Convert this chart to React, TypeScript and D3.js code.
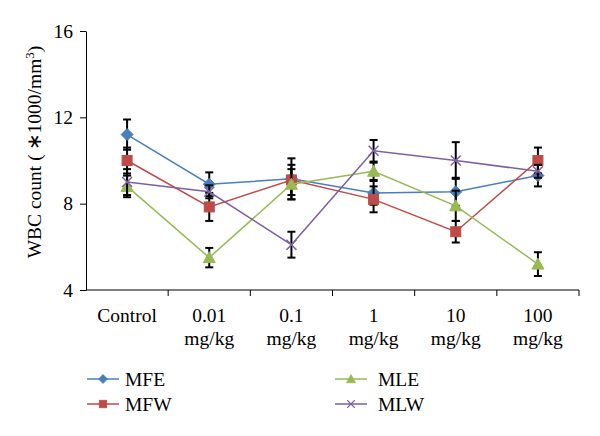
import React, { useEffect, useRef } from 'react';
import * as d3 from 'd3';

const categories = ['Control', '0.01', '0.1', '1', '10', '100'];
const unitLabels = ['', 'mg/kg', 'mg/kg', 'mg/kg', 'mg/kg', 'mg/kg'];
const yTicks = [4, 8, 12, 16];

const seriesNames = ['MFE', 'MFW', 'MLE', 'MLW'];
const mfe = [11.2, 8.9, 9.15, 8.5, 8.55, 9.3];
const mfeErr = [0.7, 0.55, 0.95, 0.55, 0.65, 0.5];
const mfw = [10.0, 7.85, 9.1, 8.2, 6.7, 10.0];
const mfwErr = [0.6, 0.65, 0.7, 0.6, 0.5, 0.6];
const mle = [8.8, 5.5, 8.9, 9.5, 7.9, 5.2];
const mleErr = [0.5, 0.45, 0.7, 0.4, 0.7, 0.55];
const mlw = [9.0, 8.55, 6.1, 10.45, 10.0, 9.5];
const mlwErr = [0.6, 0.3, 0.6, 0.5, 0.85, 0.3];

const colors = ['#4a7ebb', '#be4b48', '#98b954', '#7d60a0'];
const symbols = ['diamond', 'square', 'triangle', 'cross'];

const App = () => {
    const svgRef = useRef<SVGSVGElement>(null);

    useEffect(() => {
        const width = 600;
        const height = 436;
        const marginLeft = 86;
        const marginRight = 21;
        const marginTop = 31;
        const plotBottom = 290;
        const fontSize = 19.5;
        const font = '"Liberation Serif", "Times New Roman", serif';

        const svg = d3.select(svgRef.current)
            .attr('width', width)
            .attr('height', height)
            .attr('viewBox', [0, 0, width, height].join(' '))
            .style('position', 'absolute')
            .style('left', 0)
            .style('top', 0)
            .style('background', '#fff')
            .style('font-family', font);
        svg.selectAll('*').remove();

        const x = d3.scaleBand()
            .domain(categories)
            .range([marginLeft, width - marginRight]);
        const y = d3.scaleLinear()
            .domain([4, 16])
            .range([plotBottom, marginTop]);

        // y axis
        const yAxis = svg.append('g')
            .attr('transform', `translate(${marginLeft},0)`)
            .call(d3.axisLeft(y).tickValues(yTicks).tickSize(6).tickSizeOuter(0).tickFormat(d3.format('d')));
        yAxis.select('.domain').attr('stroke', '#000');
        yAxis.selectAll('.tick line').attr('stroke', '#000');
        yAxis.selectAll('.tick text')
            .attr('x', -13)
            .attr('font-size', fontSize)
            .attr('font-family', font)
            .attr('fill', '#000');

        // x axis (ticks at category boundaries)
        svg.append('line')
            .attr('x1', marginLeft).attr('x2', width - marginRight)
            .attr('y1', plotBottom).attr('y2', plotBottom)
            .attr('stroke', '#000');
        const bounds = categories.map(c => x(c) as number).concat([width - marginRight]);
        svg.append('g')
            .selectAll('line')
            .data(bounds.slice(1))
            .join('line')
            .attr('x1', d => d).attr('x2', d => d)
            .attr('y1', plotBottom).attr('y2', plotBottom + 6)
            .attr('stroke', '#000');

        const cx = (c: string) => (x(c) as number) + x.bandwidth() / 2;

        const labels = svg.append('g')
            .attr('font-size', fontSize)
            .attr('text-anchor', 'middle')
            .attr('fill', '#000');
        labels.selectAll('text.cat')
            .data(categories)
            .join('text')
            .attr('class', 'cat')
            .attr('x', d => cx(d))
            .attr('y', 322)
            .text(d => d);
        labels.selectAll('text.unit')
            .data(categories.map((c, i) => ({ c, u: unitLabels[i] })))
            .join('text')
            .attr('class', 'unit')
            .attr('x', d => cx(d.c))
            .attr('y', 345)
            .text(d => d.u);

        // y title
        const title = svg.append('text')
            .attr('transform', 'translate(41,152) rotate(-90)')
            .attr('text-anchor', 'middle')
            .attr('font-size', fontSize)
            .attr('fill', '#000');
        title.append('tspan').text('WBC count (\u2009\u22171000/mm');
        title.append('tspan').attr('font-size', 13).attr('dy', -7).text('3');
        title.append('tspan').attr('dy', 7).text(')');

        const values = [mfe, mfw, mle, mlw];
        const errors = [mfeErr, mfwErr, mleErr, mlwErr];

        const marker = (g: d3.Selection<SVGGElement, unknown, null, undefined>, kind: string, color: string) => {
            if (kind === 'diamond') {
                g.append('path').attr('d', 'M0,-6L6,0L0,6L-6,0Z').attr('fill', color).attr('stroke', color);
            } else if (kind === 'square') {
                g.append('rect').attr('x', -5).attr('y', -5).attr('width', 10).attr('height', 10).attr('fill', color).attr('stroke', color);
            } else if (kind === 'triangle') {
                g.append('path').attr('d', 'M0,-6L6,5L-6,5Z').attr('fill', color).attr('stroke', color);
            } else {
                g.append('path').attr('d', 'M-5,-5L5,5M-5,5L5,-5').attr('stroke', color).attr('stroke-width', 1.5).attr('fill', 'none');
            }
        };

        const line = d3.line<number>()
            .x((d, i) => cx(categories[i]))
            .y(d => y(d));

        values.forEach((vals, s) => {
            const g = svg.append('g');
            // error bars
            const eb = g.append('g').attr('stroke', '#000').attr('stroke-width', 2);
            vals.forEach((v, i) => {
                const e = errors[s][i];
                const px = cx(categories[i]);
                eb.append('line').attr('x1', px).attr('x2', px).attr('y1', y(v - e)).attr('y2', y(v + e));
                eb.append('line').attr('x1', px - 4).attr('x2', px + 4).attr('y1', y(v - e)).attr('y2', y(v - e));
                eb.append('line').attr('x1', px - 4).attr('x2', px + 4).attr('y1', y(v + e)).attr('y2', y(v + e));
            });
            g.append('path')
                .datum(vals)
                .attr('d', line)
                .attr('fill', 'none')
                .attr('stroke', colors[s])
                .attr('stroke-width', 1.5);
            vals.forEach((v, i) => {
                const m = g.append('g').attr('transform', `translate(${cx(categories[i])},${y(v)})`);
                marker(m, symbols[s], colors[s]);
            });
        });

        // legend
        const legendPos = [[87, 379], [87, 404], [335, 379], [335, 404]];
        seriesNames.forEach((name, s) => {
            const [lx, ly] = legendPos[s];
            const g = svg.append('g').attr('transform', `translate(${lx},${ly})`);
            g.append('line').attr('x1', 0).attr('x2', 32).attr('y1', 0).attr('y2', 0)
                .attr('stroke', colors[s]).attr('stroke-width', 1.5);
            const m = g.append('g').attr('transform', 'translate(16,0) scale(0.75)');
            marker(m, symbols[s], colors[s]);
            g.append('text')
                .attr('x', s < 2 ? 38 : 43)
                .attr('y', 7)
                .attr('font-size', fontSize)
                .attr('fill', '#000')
                .text(name);
        });
    }, []);

    return <svg ref={svgRef}></svg>;
};

export default App;
